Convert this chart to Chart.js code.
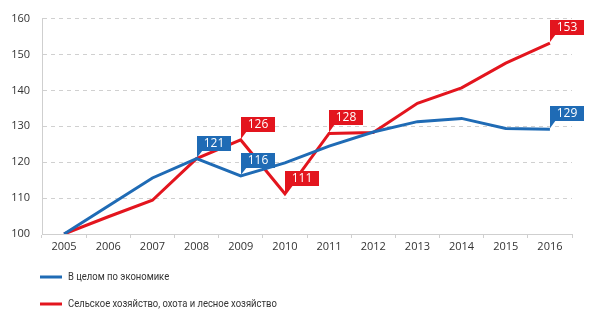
<!DOCTYPE html>
<html><head><meta charset="utf-8">
<script src="https://cdn.jsdelivr.net/npm/chart.js@4/dist/chart.umd.min.js"></script>
<style>html,body{margin:0;padding:0;background:#fff}#wrap{width:597px;height:330px;position:relative}</style>
</head><body><div id="wrap"><canvas id="c" width="597" height="330"></canvas></div>
<script>
const years = ['2005','2006','2007','2008','2009','2010','2011','2012','2013','2014','2015','2016'];
const economyValues = [100, 107.8, 115.6, 121, 116.2, 119.8, 124.5, 128.4, 131.3, 132.2, 129.4, 129.2];
const agricultureValues = [100, 104.8, 109.4, 121, 126.2, 111.2, 128, 128.3, 136.4, 140.7, 147.6, 153.2];
const seriesNames = ['В целом по экономике', 'Сельское хозяйство, охота и лесное хозяйство'];
const economyLabelIdx = [3, 4, 11];
const agricultureLabelIdx = [4, 5, 6, 11];
const yTicks = [100, 110, 120, 130, 140, 150, 160];

const BLUE = '#1f6bb5', RED = '#e3151e';
const FONT = "'Open Sans', 'Liberation Sans', sans-serif";
const LFONT = "Roboto, 'Open Sans', sans-serif";

const calloutPlugin = {
  id: 'callouts',
  afterDatasetsDraw(chart) {
    const ctx = chart.ctx;
    const groups = [[0, economyLabelIdx], [1, agricultureLabelIdx]];
    ctx.save();
    for (const [di, idxs] of groups) {
      const ds = chart.data.datasets[di];
      const meta = chart.getDatasetMeta(di);
      for (const i of idxs) {
        const pt = meta.data[i];
        const px = Math.round(pt.x), py = pt.y;
        const w = 34, h = 15;
        const bottom = Math.round(py - 8);
        const top = bottom - h;
        ctx.fillStyle = ds.borderColor;
        ctx.fillRect(px, top, w, h);
        ctx.beginPath();
        ctx.moveTo(px, bottom - 1);
        ctx.lineTo(px + 6, bottom - 1);
        ctx.lineTo(px, py - 1);
        ctx.closePath();
        ctx.fill();
        ctx.fillStyle = '#fff';
        ctx.font = '12px ' + FONT;
        ctx.textAlign = 'center';
        ctx.textBaseline = 'middle';
        ctx.fillText(String(Math.round(ds.data[i])), px + w / 2, top + h / 2 + 0.5);
      }
    }
    ctx.restore();
  }
};

const legendPlugin = {
  id: 'customLegend',
  afterDraw(chart) {
    const ctx = chart.ctx;
    ctx.save();
    const rows = [277, 304];
    chart.data.datasets.forEach((ds, i) => {
      const y = rows[i];
      ctx.strokeStyle = ds.borderColor;
      ctx.lineWidth = 3;
      ctx.beginPath();
      ctx.moveTo(40, y);
      ctx.lineTo(62, y);
      ctx.stroke();
      ctx.fillStyle = '#333';
      ctx.font = '11px ' + LFONT;
      ctx.textAlign = 'left';
      ctx.textBaseline = 'middle';
      ctx.translate(68, y);
      ctx.scale(0.86, 1);
      ctx.fillText(ds.label, 0, 0);
      ctx.setTransform(1, 0, 0, 1, 0, 0);
    });
    ctx.restore();
  }
};

new Chart(document.getElementById('c'), {
  type: 'line',
  data: {
    labels: years,
    datasets: [
      { label: seriesNames[0], data: economyValues, borderColor: BLUE, backgroundColor: BLUE, borderWidth: 3, pointRadius: 0, tension: 0, borderJoinStyle: 'miter' },
      { label: seriesNames[1], data: agricultureValues, borderColor: RED, backgroundColor: RED, borderWidth: 3, pointRadius: 0, tension: 0, borderJoinStyle: 'miter' }
    ]
  },
  options: {
    responsive: false,
    animation: false,
    layout: { padding: { top: 16, right: 25, bottom: 72, left: 0 } },
    plugins: { legend: { display: false }, tooltip: { enabled: false } },
    scales: {
      x: {
        offset: true,
        grid: { offset: true, drawOnChartArea: false, drawTicks: true, tickLength: 4, color: '#cfcfcf' },
        border: { color: '#cfcfcf', width: 1 },
        ticks: { color: '#333', font: { family: FONT, size: 11 }, padding: 2, maxRotation: 0, autoSkip: false },
        afterFit: s => { s.height = 24; }
      },
      y: {
        min: 100, max: 160,
        afterBuildTicks: s => { s.ticks = yTicks.map(v => ({ value: v })); },
        grid: { drawTicks: false, color: '#d0d0d0', lineWidth: 1 },
        border: { display: true, color: '#cfcfcf', dash: [4, 4], width: 1 },
        ticks: { color: '#333', font: { family: FONT, size: 11 }, padding: 12 },
        afterFit: s => { s.width = 42; }
      }
    }
  },
  plugins: [calloutPlugin, legendPlugin]
});
</script></body></html>
